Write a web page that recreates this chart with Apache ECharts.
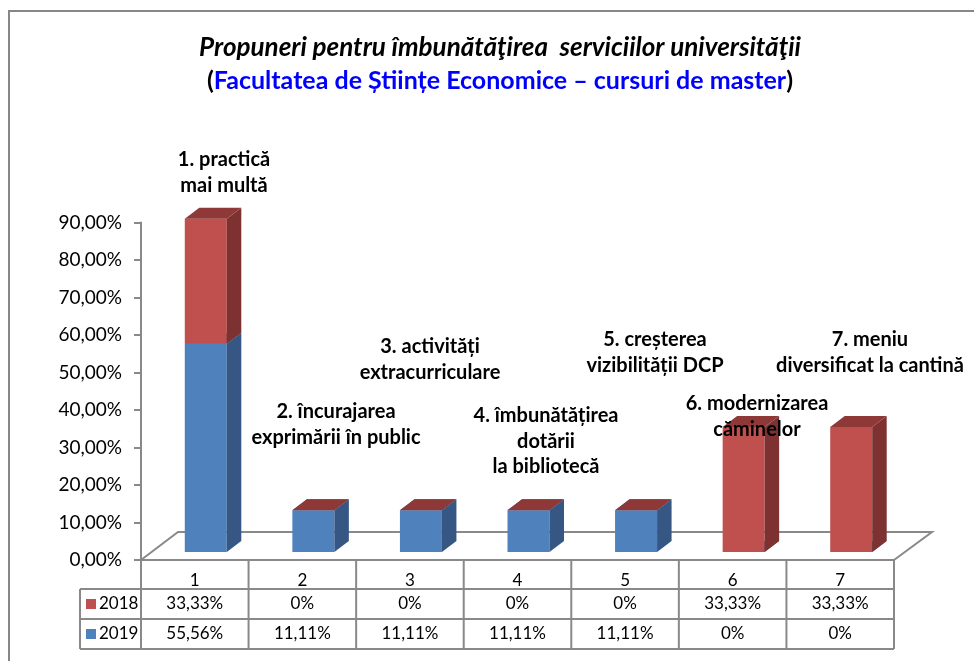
<!DOCTYPE html>
<html>
<head>
<meta charset="utf-8">
<script src="https://cdn.jsdelivr.net/npm/echarts@6/dist/echarts.min.js"></script>
<style>
html, body { margin: 0; padding: 0; background: #fff; }
#chart { width: 974px; height: 661px; }
</style>
</head>
<body>
<div id="chart"></div>
<script>
var categories = ['1', '2', '3', '4', '5', '6', '7'];
var years = ['2018', '2019'];
var values2018 = [33.33, 0, 0, 0, 0, 33.33, 33.33];
var values2019 = [55.56, 11.11, 11.11, 11.11, 11.11, 0, 0];
var notes = [
    ['1. practică', 'mai multă'],
    ['2. încurajarea', 'exprimării în public'],
    ['3. activități', 'extracurriculare'],
    ['4. îmbunătățirea', 'dotării', 'la bibliotecă'],
    ['5. creșterea', 'vizibilității DCP'],
    ['6. modernizarea', 'căminelor'],
    ['7. meniu', 'diversificat la cantină']
];
// where each note sits (centre x, first line y)
var notePos = [[224, 160], [336, 412], [430, 347], [546, 416], [655, 340], [757, 404], [870, 340]];

var FONT = 'Lato, "Open Sans", sans-serif';
var GREY = '#898989';
var faces = {
    '2019': { front: '#4F81BD', side: '#365783', top: '#3F6797' },
    '2018': { front: '#C0504D', side: '#7D3231', top: '#8E3937' }
};

function pct(v) {
    return v === 0 ? '0%' : v.toFixed(2).replace('.', ',') + '%';
}

// stacked segments: 2019 at the bottom, 2018 above it
var seg2019 = categories.map(function (c, i) { return [i, 0, values2019[i]]; });
var seg2018 = categories.map(function (c, i) { return [i, values2019[i], values2019[i] + values2018[i]]; });

function bar3d(col) {
    return function (params, api) {
        var i = api.value(0);
        var pb = api.coord([i, api.value(1)]);
        var pt = api.coord([i, api.value(2)]);
        var w = 42, dx = 14.5, dy = -11;
        var L = pb[0] - 10, R = L + w;
        var yb = pb[1] - 8, yt = pt[1] - 8;
        return {
            type: 'group',
            children: [
                { type: 'rect', shape: { x: L, y: yt, width: w, height: yb - yt }, style: { fill: col.front } },
                { type: 'polygon', shape: { points: [[R, yb], [R + dx, yb + dy], [R + dx, yt + dy], [R, yt]] }, style: { fill: col.side } },
                { type: 'polygon', shape: { points: [[L, yt], [L + dx, yt + dy], [R + dx, yt + dy], [R, yt]] }, style: { fill: col.top } }
            ]
        };
    };
}

function floor(params, api) {
    var c = params.coordSys;
    var yb = c.y + c.height;
    return {
        type: 'polyline',
        shape: { points: [[c.x, yb], [c.x + 37, yb - 28], [c.x + c.width + 38, yb - 28], [c.x + c.width, yb]] },
        style: { stroke: GREY, lineWidth: 2, fill: null }
    };
}

var chart = echarts.init(document.getElementById('chart'));

chart.setOption({
    animation: false,
    grid: { left: 141, right: 80, top: 222.5, bottom: 101 },
    xAxis: {
        type: 'category',
        data: categories,
        axisLine: { show: false },
        axisTick: { show: false },
        axisLabel: { show: false }
    },
    yAxis: {
        type: 'value',
        min: 0,
        max: 90,
        interval: 10,
        axisLine: { show: true, lineStyle: { color: GREY, width: 2 } },
        axisTick: { show: true, length: 7, lineStyle: { color: GREY, width: 2 } },
        splitLine: { show: false },
        axisLabel: {
            margin: 19,
            fontFamily: FONT,
            fontSize: 19,
            color: '#000',
            formatter: function (v) { return v.toFixed(2).replace('.', ',') + '%'; }
        }
    },
    series: [
        { type: 'custom', name: 'floor', renderItem: floor, data: [[0, 0]], z: 1, silent: true },
        { type: 'custom', name: '2019', renderItem: bar3d(faces['2019']), data: seg2019, z: 2 },
        { type: 'custom', name: '2018', renderItem: bar3d(faces['2018']), data: seg2018, z: 3 }
    ]
});

// title, frame, notes and the data table
var g = [];
g.push({ type: 'rect', shape: { x: 9, y: 11, width: 1000, height: 700 }, style: { fill: null, stroke: '#878787', lineWidth: 2 }, z: 0 });
g.push({ type: 'text', x: 500, y: 48, z: 100, style: {
    text: 'Propuneri pentru îmbunătăţirea  serviciilor universităţii',
    align: 'center', verticalAlign: 'middle',
    font: 'italic bold 26px ' + FONT, fill: '#000'
} });
g.push({ type: 'text', x: 500, y: 81, z: 100, style: {
    text: '{p|(}{b|Facultatea de Științe Economice – cursuri de master}{p|)}',
    align: 'center', verticalAlign: 'middle',
    rich: {
        p: { fontFamily: FONT, fontWeight: 'bold', fontSize: 25, fill: '#000' },
        b: { fontFamily: FONT, fontWeight: 'bold', fontSize: 25, fill: '#0000FF' }
    }
} });

notes.forEach(function (lines, i) {
    lines.forEach(function (t, k) {
        g.push({ type: 'text', x: notePos[i][0], y: notePos[i][1] + k * 25.5, z: 100, style: {
            text: t, align: 'center', verticalAlign: 'middle',
            font: 'bold 20px ' + FONT, fill: '#000'
        } });
    });
});

var x0 = chart.convertToPixel({ xAxisIndex: 0 }, 0);
var x1 = chart.convertToPixel({ xAxisIndex: 0 }, 1);
var colW = x1 - x0;
var left = x0 - colW / 2, right = left + colW * categories.length;
var yTop = chart.convertToPixel({ yAxisIndex: 0 }, 0);
var rowY = [yTop + 29, yTop + 59, yTop + 89];
var legL = 80;

function line(xa, ya, xb, yb) {
    g.push({ type: 'line', shape: { x1: xa, y1: ya, x2: xb, y2: yb }, style: { stroke: GREY, lineWidth: 2 } });
}
line(left, yTop, right, yTop);
rowY.forEach(function (y) { line(legL, y, right, y); });
line(legL, rowY[0], legL, rowY[2]);
for (var k = 0; k <= categories.length; k++) {
    line(left + k * colW, yTop, left + k * colW, rowY[2]);
}

var rows = [
    { name: years[0], vals: values2018, col: faces['2018'].front },
    { name: years[1], vals: values2019, col: faces['2019'].front }
];
categories.forEach(function (c, i) {
    g.push({ type: 'text', x: left + (i + 0.5) * colW, y: yTop + 21, style: {
        text: c, align: 'center', verticalAlign: 'middle', font: '17px ' + FONT, fill: '#000'
    } });
});
rows.forEach(function (r, j) {
    var cy = (rowY[j] + rowY[j + 1]) / 2;
    g.push({ type: 'rect', shape: { x: 86, y: cy - 5, width: 10, height: 10 }, style: { fill: r.col } });
    g.push({ type: 'text', x: 99, y: cy, style: {
        text: r.name, align: 'left', verticalAlign: 'middle', font: '17px ' + FONT, fill: '#000'
    } });
    r.vals.forEach(function (v, i) {
        g.push({ type: 'text', x: left + (i + 0.5) * colW, y: cy, style: {
            text: pct(v), align: 'center', verticalAlign: 'middle', font: '17px ' + FONT, fill: '#000'
        } });
    });
});

chart.setOption({ graphic: g });
</script>
</body>
</html>
